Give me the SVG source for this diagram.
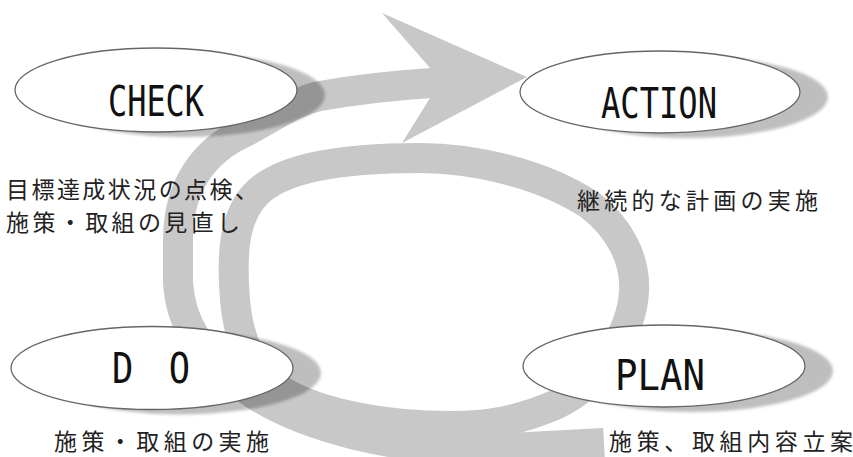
<svg xmlns="http://www.w3.org/2000/svg" width="853" height="457" viewBox="0 0 853 457">
<defs>
<filter id="blur" x="-10%" y="-30%" width="120%" height="160%"><feGaussianBlur stdDeviation="1.5"/></filter>
</defs>
<style>
.band{fill:none;stroke:#c8c8c8;stroke-width:30}
.head{fill:#c8c8c8}
.shadow{fill:#000;opacity:.25;filter:url(#blur)}
.oval{fill:#fff;stroke:#666;stroke-width:1.3}
.lbl{font-family:"DejaVu Sans Mono","Liberation Mono","Noto Sans CJK JP",monospace;font-size:42px;fill:#111}
.jp{font-family:"Noto Sans CJK JP",sans-serif;font-size:23px;fill:#222}
</style>
<rect width="853" height="457" fill="#fff"/>
<g id="connectors">
<path class="band" d="M420,158 C470,158 540,172 590,205 C620,228 636,260 634,292 C632,330 600,385 555,405 C520,420 490,426 450,426 C390,426 320,415 280,390 C250,370 238,335 235,300 C232,260 232,220 255,195 C280,168 340,158 420,158 Z"/>
<path class="band" d="M604,443 L490,449 C400,452 300,428 245,388 C200,355 180,322 178,282 L178,240 C178,185 205,150 245,132 C272,118 295,101 320,96 C360,89 400,85 432,83"/>
<polygon class="head" points="430,68 382,13 527,77 402,143 430,98"/>
</g>
<g id="check">
<ellipse class="shadow" cx="184" cy="95" rx="141" ry="42"/>
<ellipse class="oval" cx="156" cy="90" rx="141" ry="42"/>
<text class="lbl" x="156" y="116" text-anchor="middle" textLength="96" lengthAdjust="spacingAndGlyphs">CHECK</text>
</g>
<g id="action">
<ellipse class="shadow" cx="688" cy="97" rx="140" ry="41"/>
<ellipse class="oval" cx="660" cy="92" rx="140" ry="41"/>
<text class="lbl" x="659" y="118" text-anchor="middle" textLength="116" lengthAdjust="spacingAndGlyphs">ACTION</text>
</g>
<g id="do">
<ellipse class="shadow" cx="180" cy="373" rx="141" ry="41.5"/>
<ellipse class="oval" cx="152" cy="368" rx="141" ry="41.5"/>
<text class="lbl" x="112" y="383" textLength="78" lengthAdjust="spacingAndGlyphs">D　O</text>
</g>
<g id="plan">
<ellipse class="shadow" cx="692" cy="371" rx="141" ry="41"/>
<ellipse class="oval" cx="664" cy="366" rx="141" ry="41"/>
<text class="lbl" x="660" y="390" text-anchor="middle" textLength="90" lengthAdjust="spacingAndGlyphs">PLAN</text>
</g>
<g id="check-note">
<text class="jp" x="6" y="198" textLength="252">目標達成状況の点検、</text>
<text class="jp" x="6" y="231" textLength="234">施策・取組の見直し</text>
</g>
<g id="action-note">
<text class="jp" x="577" y="209" textLength="241">継続的な計画の実施</text>
</g>
<g id="do-note">
<text class="jp" x="54" y="450" textLength="215">施策・取組の実施</text>
</g>
<g id="plan-note">
<text class="jp" x="609" y="450" textLength="244">施策、取組内容立案</text>
</g>
</svg>
